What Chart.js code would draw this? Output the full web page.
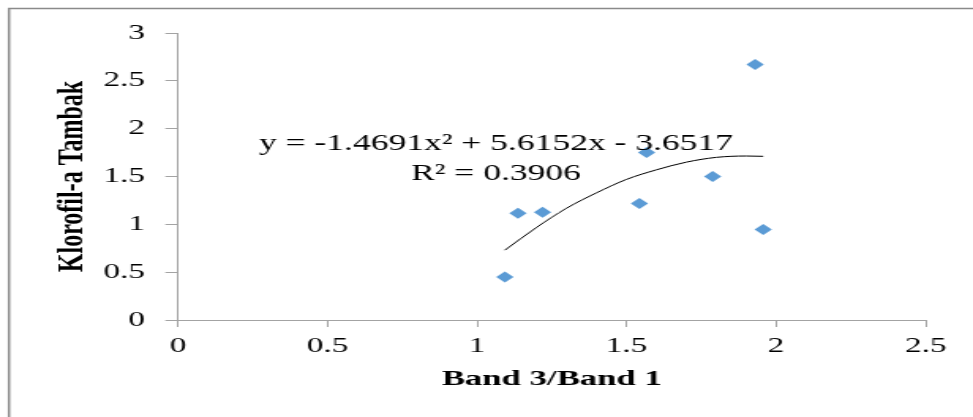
<!DOCTYPE html>
<html>
<head>
<meta charset="utf-8">
<script src="https://cdn.jsdelivr.net/npm/chart.js@4.4.1/dist/chart.umd.min.js"></script>
<style>
  html, body { margin: 0; padding: 0; background: #fff; overflow: hidden; }
  #wrap { position: absolute; left: 0; top: 0; width: 616px; height: 417px;
          transform: scale(1.5795, 1); transform-origin: 0 0; }
</style>
</head>
<body>
<div id="wrap"><canvas id="c"></canvas></div>
<script>
// ---- data ----
const xTickValues = [0, 0.5, 1, 1.5, 2, 2.5];
const xTickLabels = ['0', '0.5', '1', '1.5', '2', '2.5'];
const yTickValues = [0, 0.5, 1, 1.5, 2, 2.5, 3];
const yTickLabels = ['0', '0.5', '1', '1.5', '2', '2.5', '3'];
const bandRatio   = [1.093, 1.137, 1.219, 1.543, 1.567, 1.788, 1.930, 1.957];
const chlorophyll = [0.45, 1.115, 1.127, 1.218, 1.75, 1.50, 2.67, 0.947];
// polynomial trendline as seen on the picture
const trendX = [1.093, 1.2, 1.3, 1.4, 1.5, 1.6, 1.7, 1.8, 1.9, 1.957];
const trendY = [0.73, 0.97, 1.17, 1.33, 1.47, 1.57, 1.65, 1.70, 1.714, 1.711];
const equationLines = ['y = -1.4691x\u00B2 + 5.6152x - 3.6517', 'R\u00B2 = 0.3906'];
const xAxisTitle = 'Band 3/Band 1';
const yAxisTitle = 'Klorofil-a Tambak';

const serif = '"Liberation Serif", "Times New Roman", serif';
const axisGray = '#a3a3a3';

const framePlugin = {
  id: 'frame',
  beforeDraw(chart) {
    const ctx = chart.ctx;
    ctx.save();
    ctx.fillStyle = '#fff';
    ctx.fillRect(0, 0, chart.width, chart.height);
    ctx.strokeStyle = '#8a8a8a';
    ctx.lineWidth = 1.5;
    ctx.beginPath();
    ctx.moveTo(5.7, chart.height);
    ctx.lineTo(5.7, 8.6);
    ctx.lineTo(chart.width, 8.6);
    ctx.stroke();
    ctx.restore();
  }
};

const equationPlugin = {
  id: 'equation',
  afterDatasetsDraw(chart) {
    const ctx = chart.ctx;
    ctx.save();
    ctx.font = '22.5px ' + serif;
    ctx.fillStyle = '#000';
    ctx.textAlign = 'center';
    ctx.textBaseline = 'alphabetic';
    ctx.fillText(equationLines[0], 314, 150);
    ctx.fillText(equationLines[1], 314, 180);
    ctx.restore();
  }
};

function labelFor(values, labels) {
  return function (v) {
    const i = values.findIndex(t => Math.abs(t - v) < 1e-9);
    return i >= 0 ? labels[i] : '';
  };
}

new Chart(document.getElementById('c'), {
  type: 'scatter',
  data: {
    datasets: [
      {
        label: 'Poly. trend',
        data: trendX.map((x, i) => ({ x: x, y: trendY[i] })),
        showLine: true,
        borderColor: '#000',
        borderWidth: 1,
        pointRadius: 0,
        cubicInterpolationMode: 'monotone',
        fill: false,
        order: 0
      },
      {
        label: 'Klorofil-a',
        data: bandRatio.map((x, i) => ({ x: x, y: chlorophyll[i] })),
        pointStyle: 'rectRot',
        pointRadius: 5.5,
        pointBackgroundColor: '#5B9BD5',
        pointBorderColor: '#5B9BD5',
        pointBorderWidth: 0,
        showLine: false,
        order: 1
      }
    ]
  },
  options: {
    responsive: true,
    maintainAspectRatio: false,
    animation: false,
    devicePixelRatio: 1,
    layout: { padding: { top: 33, right: 30, left: 0, bottom: 0 } },
    plugins: { legend: { display: false }, tooltip: { enabled: false } },
    scales: {
      x: {
        type: 'linear',
        min: 0, max: 2.5,
        afterBuildTicks: s => { s.ticks = xTickValues.map(v => ({ value: v })); },
        afterFit: s => { s.height = 97; },
        ticks: { font: { family: serif, size: 21 }, color: '#000', padding: 7, maxRotation: 0, autoSkip: false,
                 callback: labelFor(xTickValues, xTickLabels) },
        grid: { drawOnChartArea: false, drawTicks: true, tickLength: 7, color: axisGray },
        border: { display: true, color: axisGray, width: 1 },
        title: { display: true, text: xAxisTitle, color: '#000',
                 font: { family: serif, size: 22, weight: 'bold' }, padding: { top: 0, bottom: 24 } }
      },
      y: {
        type: 'linear',
        min: 0, max: 3,
        afterBuildTicks: s => { s.ticks = yTickValues.map(v => ({ value: v })); },
        afterFit: s => { s.width = 112.7; },
        ticks: { font: { family: serif, size: 21 }, color: '#000', padding: 13, autoSkip: false,
                 callback: labelFor(yTickValues, yTickLabels) },
        grid: { drawOnChartArea: false, drawTicks: true, tickLength: 8, color: axisGray },
        border: { display: true, color: axisGray, width: 1 },
        title: { display: true, text: yAxisTitle, color: '#000',
                 font: { family: serif, size: 24, weight: 'bold' }, padding: { top: 31, bottom: 0 } }
      }
    }
  },
  plugins: [framePlugin, equationPlugin]
});
</script>
</body>
</html>
